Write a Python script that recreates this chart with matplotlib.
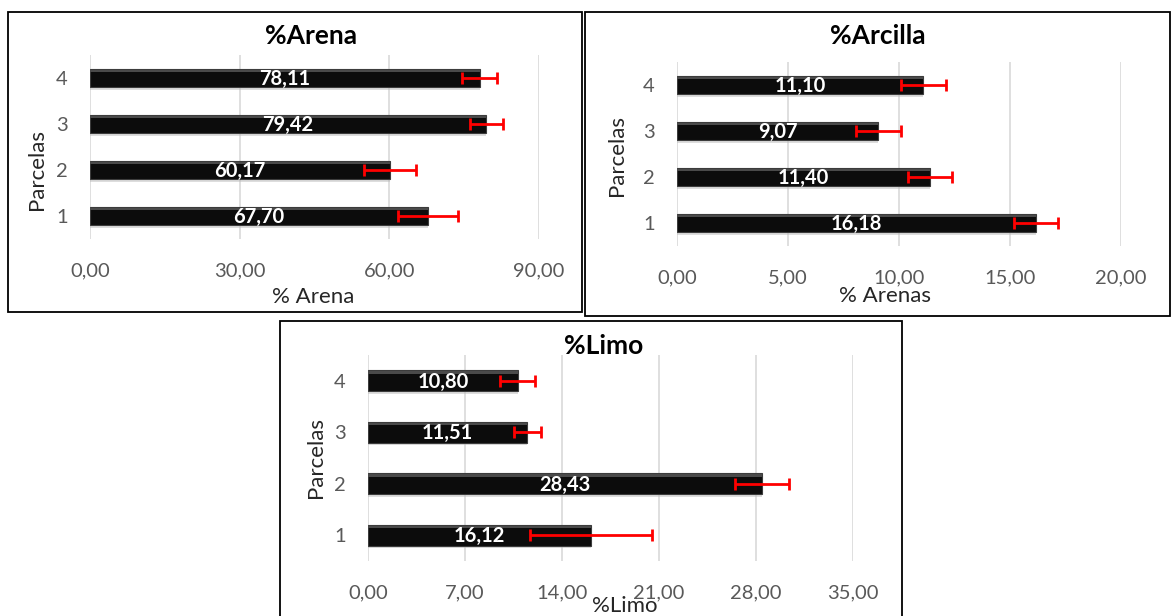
import matplotlib
matplotlib.use("Agg")
import matplotlib.pyplot as plt
from matplotlib.patches import Rectangle

plt.rcParams['font.family'] = ['Lato', 'DejaVu Sans']

categories = ['1', '2', '3', '4']

arena = [67.70, 60.17, 79.42, 78.11]
arena_err = [6.05, 5.2, 3.3, 3.5]
arena_ticks = [0, 30, 60, 90]

arcilla = [16.18, 11.40, 9.07, 11.10]
arcilla_err = [1.0, 1.0, 1.0, 1.0]
arcilla_ticks = [0, 5, 10, 15, 20]

limo = [16.12, 28.43, 11.51, 10.80]
limo_err = [4.4, 1.95, 1.0, 1.25]
limo_ticks = [0, 7, 14, 21, 28, 35]

W, H = 1171, 616
fig = plt.figure(figsize=(W / 100, H / 100), dpi=100)
fig.patch.set_facecolor('white')


def fx(px):
    return px / W


def fy(py):
    return 1 - py / H


def box(x0, y0, x1, y1):
    fig.patches.append(Rectangle((fx(x0), fy(y1)), fx(x1) - fx(x0), fy(y0) - fy(y1),
                                 transform=fig.transFigure, fill=False,
                                 edgecolor='black', linewidth=1.3, zorder=0))


def panel(rect_px, values, errs, ticks, title, title_xy, xlabel, xlabel_xy, ylab_xy, bar_h):
    l, t, r, b = rect_px
    ax = fig.add_axes([fx(l), fy(b), fx(r) - fx(l), fy(t) - fy(b)])
    y = list(range(1, len(categories) + 1))
    # shadow
    ax.barh([v - 0.05 for v in y], values, height=bar_h, left=0.0,
            color='#bdbdbd', alpha=0.5, zorder=2)
    ax.barh(y, values, height=bar_h, color='#0c0c0c', edgecolor='#3c3c3c',
            linewidth=0.8, zorder=3)
    # bevel highlight on top edge
    ax.barh([v + bar_h * 0.40 for v in y], values, height=bar_h * 0.10,
            color='#4a4a4a', zorder=4, linewidth=0)
    ax.errorbar(values, y, xerr=errs, fmt='none', ecolor='#ff0000',
                elinewidth=2, capsize=4, capthick=2, zorder=6)
    for yi, v in zip(y, values):
        ax.text(v / 2, yi - 0.02, f"{v:.2f}".replace('.', ','), color='white',
                fontsize=14.5, fontweight='bold', ha='center', va='center', zorder=7)
    ax.set_xlim(ticks[0], ticks[-1])
    ax.set_ylim(0.5, len(categories) + 0.5)
    ax.set_xticks(ticks)
    ax.set_xticklabels([f"{t_:.2f}".replace('.', ',') for t_ in ticks])
    ax.set_yticks(y)
    ax.set_yticklabels(categories)
    ax.tick_params(axis='x', length=0, pad=17, labelsize=14.5, labelcolor='#595959')
    ax.tick_params(axis='y', length=0, pad=16, labelsize=14.5, labelcolor='#595959')
    for s in ax.spines.values():
        s.set_visible(False)
    ax.grid(axis='x', color='#d9d9d9', linewidth=1.2, zorder=0)
    ax.set_axisbelow(True)
    fig.text(fx(title_xy[0]), fy(title_xy[1]), title, fontsize=19, fontweight='bold',
             ha='center', va='center', color='black')
    fig.text(fx(xlabel_xy[0]), fy(xlabel_xy[1]), xlabel, fontsize=16,
             ha='center', va='center', color='#262626')
    fig.text(fx(ylab_xy[0]), fy(ylab_xy[1]), 'Parcelas', fontsize=16, rotation=90,
             ha='center', va='center', color='#262626')
    return ax


box(8, 12, 582, 312)
box(585, 12, 1170, 316)
box(280, 321, 902, 640)

panel((90, 55, 539, 239), arena, arena_err, arena_ticks, '%Arena', (311, 36),
      '% Arena', (313, 297), (37, 170), 0.40)
panel((677, 62, 1121, 246), arcilla, arcilla_err, arcilla_ticks, '%Arcilla', (878, 36),
      '% Arenas', (885, 296), (617, 155), 0.40)
panel((368, 355, 853, 561), limo, limo_err, limo_ticks, '%Limo', (604, 346),
      '%Limo', (625, 606), (316, 458), 0.40)

fig.savefig('out.png', dpi=100)
